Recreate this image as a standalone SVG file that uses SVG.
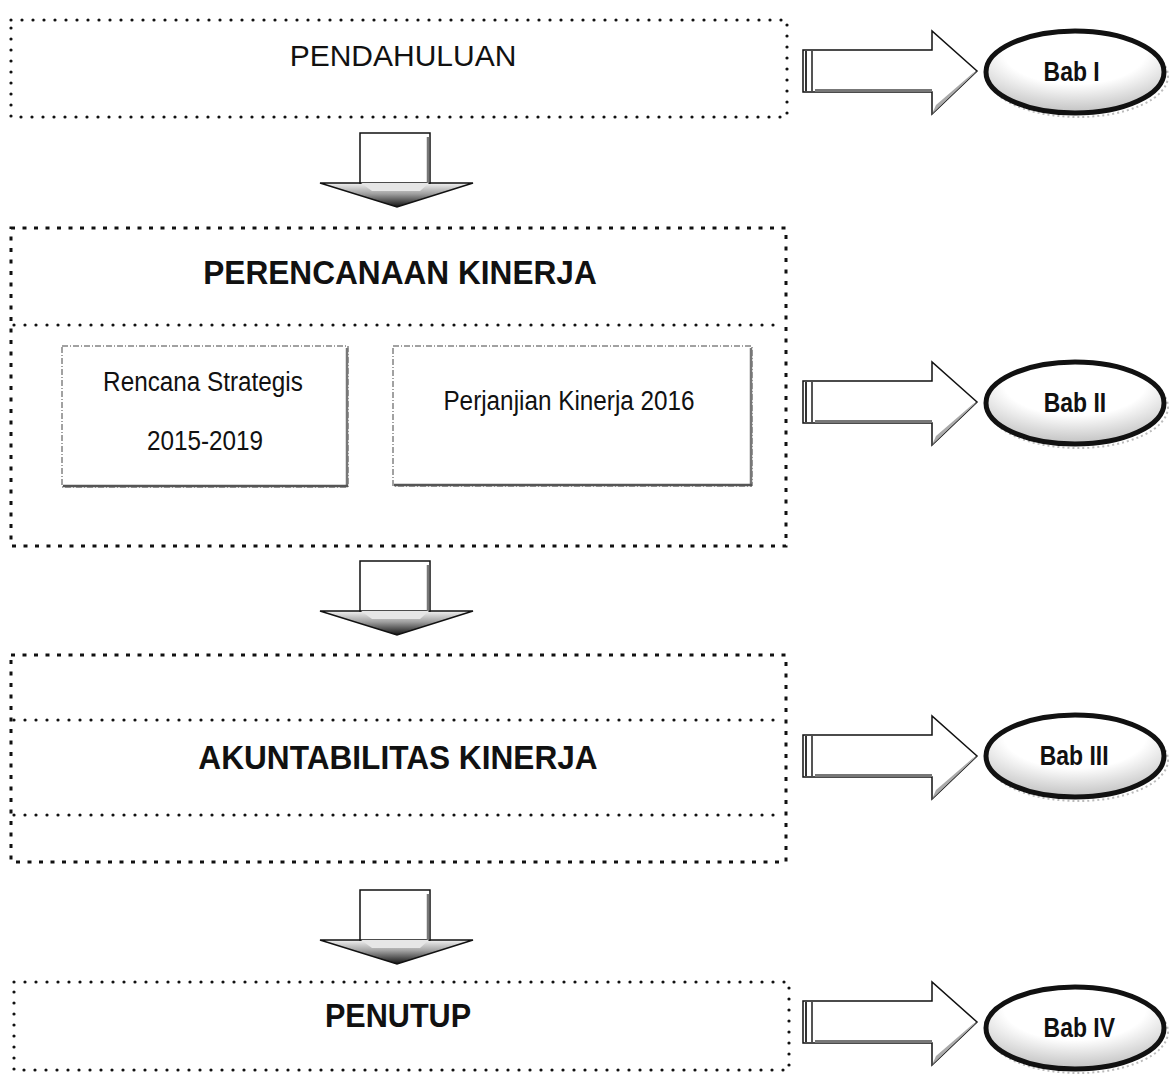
<svg xmlns="http://www.w3.org/2000/svg" width="1176" height="1079" viewBox="0 0 1176 1079">
<defs>
  <linearGradient id="headGrad" x1="0" y1="0" x2="0" y2="1">
    <stop offset="0" stop-color="#f2f2f2"/>
    <stop offset="0.45" stop-color="#a0a0a0"/>
    <stop offset="1" stop-color="#111"/>
  </linearGradient>
  <radialGradient id="ellGrad" cx="0.5" cy="0.25" r="0.8">
    <stop offset="0.5" stop-color="#ffffff"/>
    <stop offset="1" stop-color="#b8b8b8"/>
  </radialGradient>
  <g id="rarrow">
    <path d="M803,-21 H932 V-40 L977,0 L932,43 V21 H803 Z" fill="#ffffff" stroke="#111" stroke-width="1.5"/>
    <path d="M936,34 L973,2 L977,0 L932,43 Z" fill="#aaa"/>
    <line x1="815" y1="19.5" x2="932" y2="19.5" stroke="#777" stroke-width="3"/>
    <line x1="806" y1="-20" x2="806" y2="20" stroke="#333" stroke-width="2"/>
    <line x1="812" y1="-20" x2="812" y2="20" stroke="#555" stroke-width="2"/>
  </g>
  <g id="darrow">
    <path d="M320,50 L397,74 L473,50 Z" fill="url(#headGrad)" stroke="#111" stroke-width="1.5"/>
    <rect x="360" y="0" width="70" height="50" fill="#ffffff" stroke="#111" stroke-width="1.5"/>
    <line x1="428" y1="4" x2="428" y2="50" stroke="#777" stroke-width="2.5"/>
    <path d="M361,50 H429 L420,58 H372 Z" fill="#e6e6e6"/>
  </g>
  <g id="ell">
    <ellipse cx="3" cy="4" rx="90" ry="41" fill="none" stroke="#bbb" stroke-width="2" stroke-dasharray="2 3"/>
    <ellipse cx="0" cy="0" rx="89" ry="41" fill="url(#ellGrad)" stroke="#111" stroke-width="5"/>
  </g>
</defs>
<style>
  .dot { fill: none; stroke: #111; stroke-width: 3.2; stroke-linecap: round; stroke-dasharray: 0 11; }
  .sq { fill: none; stroke: #111; stroke-width: 3; stroke-dasharray: 4 7.5; }
  .inner { fill: #fff; stroke: #444; stroke-width: 1; stroke-dasharray: 6 2 1 2; }
  .t { font-family: "Liberation Sans", Arial, sans-serif; fill: #111; text-anchor: middle; }
  .title { font-size: 34px; font-weight: bold; }
  .narrow { font-size: 27px; }
  .bab { font-size: 27px; font-weight: bold; }
</style>
<rect width="1176" height="1079" fill="#ffffff"/>

<g id="pendahuluan">
  <rect class="dot" x="11" y="20" width="776" height="97"/>
  <text class="t" x="403" y="66" font-size="30">PENDAHULUAN</text>
</g>

<g id="perencanaan">
  <rect class="sq" x="11" y="228" width="775" height="318"/>
  <line class="dot" x1="14" y1="325" x2="784" y2="325"/>
  <g transform="translate(400,284) scale(0.93,1)"><text class="t title" x="0" y="0">PERENCANAAN KINERJA</text></g>
</g>

<g id="renstra">
  <rect class="inner" x="62" y="346" width="286" height="141"/>
  <line x1="347" y1="348" x2="347" y2="487" stroke="#777" stroke-width="2.5"/>
  <line x1="63" y1="486" x2="348" y2="486" stroke="#555" stroke-width="2.5"/>
  <g transform="translate(203,391) scale(0.9,1)"><text class="t narrow" x="0" y="0">Rencana Strategis</text></g>
  <g transform="translate(205,450) scale(0.9,1)"><text class="t narrow" x="0" y="0">2015-2019</text></g>
</g>

<g id="pk2016">
  <rect class="inner" x="393" y="346" width="359" height="140"/>
  <line x1="751" y1="348" x2="751" y2="486" stroke="#777" stroke-width="2.5"/>
  <line x1="394" y1="485" x2="752" y2="485" stroke="#555" stroke-width="2.5"/>
  <g transform="translate(569,410) scale(0.9,1)"><text class="t narrow" x="0" y="0">Perjanjian Kinerja 2016</text></g>
</g>

<g id="akuntabilitas">
  <rect class="sq" x="11" y="655" width="775" height="207"/>
  <line class="dot" x1="14" y1="720" x2="784" y2="720"/>
  <line class="dot" x1="14" y1="815" x2="784" y2="815"/>
  <g transform="translate(398,769) scale(0.93,1)"><text class="t title" x="0" y="0">AKUNTABILITAS KINERJA</text></g>
</g>

<g id="penutup">
  <rect class="dot" x="14" y="982" width="775" height="88"/>
  <g transform="translate(398,1027) scale(0.9,1)"><text class="t title" x="0" y="0" font-size="32">PENUTUP</text></g>
</g>

<g id="bab1" transform="translate(1075,72)">
  <use href="#ell"/>
  <text class="t bab" transform="scale(0.85,1)" x="-4" y="9">Bab I</text>
</g>
<g id="bab2" transform="translate(1075,403)">
  <use href="#ell"/>
  <text class="t bab" transform="scale(0.85,1)" x="0" y="9">Bab II</text>
</g>
<g id="bab3" transform="translate(1075,756)">
  <use href="#ell"/>
  <text class="t bab" transform="scale(0.85,1)" x="-1" y="9">Bab III</text>
</g>
<g id="bab4" transform="translate(1075,1028)">
  <use href="#ell"/>
  <text class="t bab" transform="scale(0.85,1)" x="5" y="9">Bab IV</text>
</g>

<g id="connectors">
  <use href="#darrow" transform="translate(0,133)"/>
  <use href="#darrow" transform="translate(0,561)"/>
  <use href="#darrow" transform="translate(0,890)"/>
  <use href="#rarrow" transform="translate(0,71)"/>
  <use href="#rarrow" transform="translate(0,402)"/>
  <use href="#rarrow" transform="translate(0,756)"/>
  <use href="#rarrow" transform="translate(0,1022)"/>
</g>
</svg>
